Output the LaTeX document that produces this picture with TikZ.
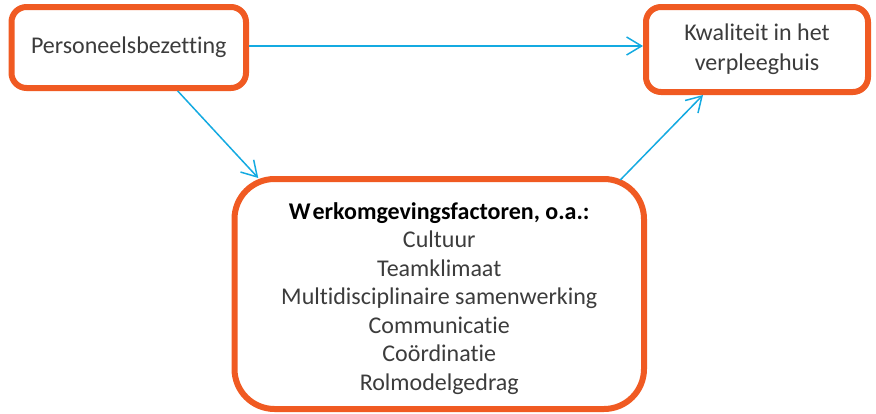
\documentclass[tikz,border=0pt]{standalone}
\usepackage{fontspec}
\setmainfont{Carlito}[Ligatures=NoCommon]
\usetikzlibrary{arrows.meta,calc}
\definecolor{boxorange}{RGB}{240,90,34}
\definecolor{arrowblue}{RGB}{20,170,225}
\definecolor{txt}{RGB}{60,60,60}
\begin{document}
\begin{tikzpicture}[x=1pt,y=-1pt,
  box/.style={draw=boxorange, line width=6pt, rounded corners=15pt, fill=white},
  conn/.style={draw=arrowblue, line width=1.5pt, -{Straight Barb[length=15pt,width=18pt,line width=1.5pt]}},
  lbl/.style={font=\fontsize{24}{30}\selectfont, text=txt, align=center}]
\useasboundingbox (0,0) rectangle (876,413);
\node[box, lbl, minimum width=234.5pt, minimum height=81pt] (pers) at (128.75,47.5) {Personeelsbezetting};
\node[box, lbl, minimum width=222pt, minimum height=85pt] (kwal) at (757,49.5) {Kwaliteit in het\\verpleeghuis};
\node[box, rounded corners=40pt, minimum width=409.5pt, minimum height=230pt] (work) at (439.25,294) {};
\node[lbl, font=\fontsize{24}{28.5}\selectfont] (worktext) at (439.25,298.5)
  {\textcolor{black}{\textbf{W\kern2pt erkomgevingsfactoren, o.a.:}}\\Cultuur\\Teamklimaat\\Multidisciplinaire samenwerking\\Communicatie\\Coördinatie\\Rolmodelgedrag};
\draw[conn] ([yshift=1.5pt]pers.east) -- ([yshift=1.5pt]pers.east -| kwal.west);
\draw[conn] ([xshift=49pt]pers.south) -- ([xshift=-181pt,yshift=-2pt]work.north);
\draw[conn] ([xshift=181pt,yshift=-4pt]work.north) -- ([xshift=-54pt]kwal.south);
\end{tikzpicture}
\end{document}
